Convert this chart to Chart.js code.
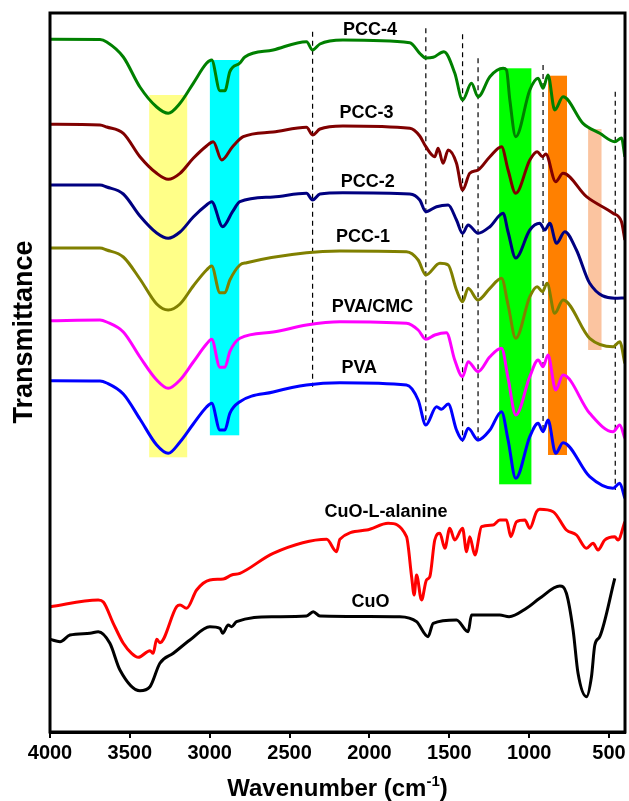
<!DOCTYPE html>
<html><head><meta charset="utf-8">
<script src="https://cdn.jsdelivr.net/npm/chart.js@4.4.0/dist/chart.umd.min.js"></script>
<style>html,body{margin:0;padding:0;background:#fff}canvas{display:block}</style>
</head><body>
<canvas id="c" width="629" height="801"></canvas>
<script>
// ---- tick labels ----
const xTicks = [4000,3500,3000,2500,2000,1500,1000,500];

// ---- spectra (wavenumber, transmittance a.u., offset stacked) ----
const pcc4Wn = [4000,3687,3645,3541,3437,3332,3260,3186,3103,3020,2988,2936,2905,2874,2811,2780,2603,2394,2356,2310,2166,1747,1685,1647,1601,1534,1466,1417,1361,1320,1246,1163,1142,1121,1084,996,944,913,882,840,788,663,558,464,422,401];
const pcc4T  = [692.7,692.5,690,675,645,625,618.7,628.7,648.7,668.7,672,641.3,641.3,660.3,669,675,682,690.3,682,688,692,689.3,678.7,674,674.7,680.3,659,632,648.7,635.3,655.3,663.7,662,632,595.3,642,653.7,643.7,657,622,635.3,608.7,598.7,590.3,594,575.3];

const pcc3Wn = [4000,3687,3645,3541,3437,3332,3260,3186,3103,3020,2978,2925,2857,2790,2603,2394,2356,2310,2166,1747,1685,1647,1591,1570,1539,1507,1455,1417,1372,1320,1246,1173,1132,1084,996,950,917,896,834,788,641,475,422,401];
const pcc3T  = [607.7,607,605,598.7,575.3,558.7,552.7,558.7,573.7,586,590.3,572,585.3,595.3,600,604.7,597,603,606,603.7,596,585.3,575.3,583.7,568.7,582,568.7,542,558.7,562,575.3,585.3,562,538.7,572,580.3,575.3,578,550.3,558.7,535.3,518.7,510.3,492];

const pcc2Wn = [4000,3687,3645,3541,3437,3332,3260,3186,3103,3020,2988,2919,2857,2811,2603,2394,2356,2310,2166,1747,1685,1647,1580,1507,1455,1417,1382,1320,1246,1163,1132,1084,996,934,902,871,829,777,704,621,464,401];
const pcc2T  = [547,547,545,538,516,499,493.7,500,515,527,530.3,505.3,520.3,530.3,535,538.7,532,538,539.3,538,532,520.3,525.3,527,512,498.7,507,498.7,505.3,518.7,500,474,502,508.7,502,508.7,488.7,500.3,482,448.7,433.7,434];

const pcc1Wn = [4000,3687,3645,3541,3437,3332,3260,3186,3103,3020,2988,2936,2905,2874,2811,2769,2394,2185,1768,1695,1647,1559,1507,1455,1417,1382,1320,1246,1173,1132,1084,996,950,917,888,840,788,621,475,433,401];
const pcc1T  = [484,484,482,475,453,428,422,428,446,462,466,439.3,439.3,452,467,469.3,479.3,481,480.3,472,457,468.7,467,442,430.3,443.7,432,443.7,453.7,427,393.7,435.3,445.3,440.3,448.7,418.7,432,393.7,385.3,390.3,368.7];

const pvaCmcWn = [4000,3687,3645,3541,3437,3332,3260,3186,3103,3020,2988,2936,2905,2874,2811,2603,2394,2185,1768,1695,1647,1591,1518,1466,1417,1382,1320,1246,1173,1132,1084,996,944,913,882,834,788,621,475,433,401];
const pvaCmcT  = [411.3,412,410,400,375,352,343.7,352,370,388,392.7,364.7,364.7,380.3,393.7,400,407,410.3,408.7,402,392.7,397,399.3,372,355.3,370.3,360.3,375.3,383.7,353.7,317,355.3,372,365.3,377,342,357,318.7,300.3,307,293.7];

const pvaWn = [4000,3687,3645,3541,3437,3332,3260,3186,3103,3020,2988,2936,2905,2874,2811,2603,2394,2185,1768,1695,1647,1580,1549,1507,1455,1417,1382,1320,1246,1173,1132,1084,996,944,913,882,834,788,621,475,433,401];
const pvaT  = [351.3,351,349,338,313,287,278.7,290,308,325,328.7,302,302,318.7,330.3,340,347,349.3,347,332,307,325.3,322.7,328,302,292,303.7,292,302,320.3,292,253.7,295.3,308.7,300.3,312,278.7,289.3,255.3,243.7,248.7,233.7];

const cuoAlaWn = [4000,3698,3666,3604,3541,3489,3447,3374,3354,3332,3312,3207,3186,3145,3082,2999,2915,2863,2811,2603,2268,2206,2185,2018,1883,1768,1736,1720,1705,1674,1643,1622,1591,1559,1528,1497,1466,1417,1392,1372,1340,1298,1226,1184,1142,1115,1079,1027,996,954,934,850,767,704,641,600,569,527,464,444,401];
const cuoAlaT  = [125.3,132,130,108.7,88.7,78.7,74.7,81.3,78.7,92.7,89.3,125.3,127,123.7,142,152,153,157,158.7,178.7,192.7,180.3,192.7,202,208.7,195.3,155.3,137,157,132,152,155.3,192,198.7,183.7,203.7,192,203.7,180.3,195.3,177,205.3,207,212,212,195.3,210.3,212,203.7,220.3,222.7,220.3,202,197,183.7,188.7,182,192,195.3,192,210.3];

const cuoWn = [4000,3937,3875,3750,3698,3625,3562,3437,3374,3312,3228,3124,2999,2936,2919,2884,2863,2832,2603,2394,2352,2310,1810,1705,1633,1601,1455,1382,1361,1184,1126,1017,934,808,767,725,694,641,610,589,558,464];
const cuoT  = [92.7,90.3,97,98.7,100.3,88.7,62,41.3,45.3,68.7,78.7,92,105.3,103.7,98.7,107,105.3,110.3,115.3,116,120.3,116,115.3,110.3,95.3,108.7,112,100.3,117,117,115.3,123.7,133.7,146,138.7,102,58.7,35.3,55.3,87,95.3,153.7];

// ---- highlighted regions (wavenumber range, transmittance range) ----
const bandFrom   = [3379, 2999, 1188, 882, 631];
const bandTo     = [3141, 2815, 986, 763, 547];
const bandTop    = [637, 672, 663.7, 656.3, 603];
const bandBottom = [274.7, 296.7, 247.7, 277, 382];

// ---- dashed reference lines ----
const dashWn     = [2356, 1647, 1417, 1320, 913, 461];
const dashTop    = [700.3, 703.7, 697.7, 673.7, 667, 640.3];
const dashBottom = [345.3, 308.7, 290.3, 290.3, 298.7, 242];

// ---- series names ----
const names = ['PCC-4','PCC-3','PCC-2','PCC-1','PVA/CMC','PVA','CuO-L-alanine','CuO'];
// label anchors in data units
const labelWn = [1997, 2018, 2010, 2041, 1981, 2064, 1897, 1993];
const labelT  = [702, 618.7, 550.3, 495, 425.3, 363.7, 220.3, 130.3];

const seriesWn = [pcc4Wn, pcc3Wn, pcc2Wn, pcc1Wn, pvaCmcWn, pvaWn, cuoAlaWn, cuoWn];
const seriesT  = [pcc4T, pcc3T, pcc2T, pcc1T, pvaCmcT, pvaT, cuoAlaT, cuoT];
const colors = ['#008000','#800000','#000080','#808000','#ff00ff','#0000ff','#ff0000','#000000'];
const bandColors = ['#ffff88','#00ffff','#00ff00','#ff8000','#fbc4a0'];

const FONT = "'Liberation Sans', Arial, Helvetica, sans-serif";
Chart.defaults.font.family = FONT;

const datasets = seriesWn.map((wn, i) => ({
  label: names[i],
  data: wn.map((w, k) => ({x: w, y: seriesT[i][k]})),
  borderColor: colors[i],
  borderWidth: 3,
  pointRadius: 0,
  fill: false,
  cubicInterpolationMode: 'monotone'
}));
dashWn.forEach((w, i) => {
  datasets.push({
    label: 'dash' + i,
    data: [{x: w, y: dashTop[i]}, {x: w, y: dashBottom[i]}],
    borderColor: '#000',
    borderWidth: 1.2,
    borderDash: [5, 4],
    pointRadius: 0,
    fill: false
  });
});

const decor = {
  id: 'decor',
  beforeDatasetsDraw(chart) {
    const {ctx, scales: {x, y}} = chart;
    ctx.save();
    bandFrom.forEach((w, i) => {
      const x1 = x.getPixelForValue(w), x2 = x.getPixelForValue(bandTo[i]);
      const y1 = y.getPixelForValue(bandTop[i]), y2 = y.getPixelForValue(bandBottom[i]);
      ctx.fillStyle = bandColors[i];
      ctx.fillRect(Math.min(x1, x2), Math.min(y1, y2), Math.abs(x2 - x1), Math.abs(y2 - y1));
    });
    ctx.restore();
  },
  afterDatasetsDraw(chart) {
    const {ctx, chartArea: a, scales: {x, y}} = chart;
    ctx.save();
    ctx.fillStyle = '#000';
    ctx.font = 'bold 18px ' + FONT;
    ctx.textAlign = 'center';
    ctx.textBaseline = 'middle';
    names.forEach((n, i) => {
      ctx.fillText(n, x.getPixelForValue(labelWn[i]), y.getPixelForValue(labelT[i]));
    });
    // frame
    ctx.strokeStyle = '#000';
    ctx.lineWidth = 3;
    ctx.strokeRect(a.left, a.top, a.right - a.left, a.bottom - a.top);
    // y title
    ctx.save();
    ctx.translate(31.5, 332);
    ctx.rotate(-Math.PI / 2);
    ctx.font = 'bold 27px ' + FONT;
    ctx.textAlign = 'center';
    ctx.textBaseline = 'alphabetic';
    ctx.fillText('Transmittance', 0, 0);
    ctx.restore();
    // x title with superscript
    const f1 = 'bold 24px ' + FONT, f2 = 'bold 15px ' + FONT;
    const p1 = 'Wavenumber (cm', p2 = '-1', p3 = ')';
    ctx.font = f1; const w1 = ctx.measureText(p1).width, w3 = ctx.measureText(p3).width;
    ctx.font = f2; const w2 = ctx.measureText(p2).width;
    const cx = (a.left + a.right) / 2;
    let sx = cx - (w1 + w2 + w3) / 2;
    const base = 796;
    ctx.textAlign = 'left';
    ctx.textBaseline = 'alphabetic';
    ctx.font = f1; ctx.fillText(p1, sx, base); sx += w1;
    ctx.font = f2; ctx.fillText(p2, sx, base - 10); sx += w2;
    ctx.font = f1; ctx.fillText(p3, sx, base);
    ctx.restore();
  }
};

new Chart(document.getElementById('c'), {
  type: 'line',
  data: {datasets},
  plugins: [decor],
  options: {
    responsive: false,
    animation: false,
    devicePixelRatio: 1,
    layout: {padding: {left: 50, top: 13, right: 4, bottom: 0}},
    plugins: {legend: {display: false}, tooltip: {enabled: false}},
    scales: {
      x: {
        type: 'linear',
        reverse: true,
        min: 400,
        max: 4000,
        afterBuildTicks: (s) => { s.ticks = xTicks.map(v => ({value: v})); },
        afterFit: (s) => { s.height = 69; },
        grid: {drawOnChartArea: false, drawTicks: true, tickLength: 6, color: '#000', lineWidth: 2},
        border: {display: true, color: '#000', width: 3},
        ticks: {
          autoSkip: false, maxRotation: 0, padding: 3, color: '#000',
          font: {size: 20, weight: 'bold', family: FONT},
          callback: (v) => String(v)
        }
      },
      y: {display: false, min: 0, max: 719}
    }
  }
});
</script>
</body></html>
